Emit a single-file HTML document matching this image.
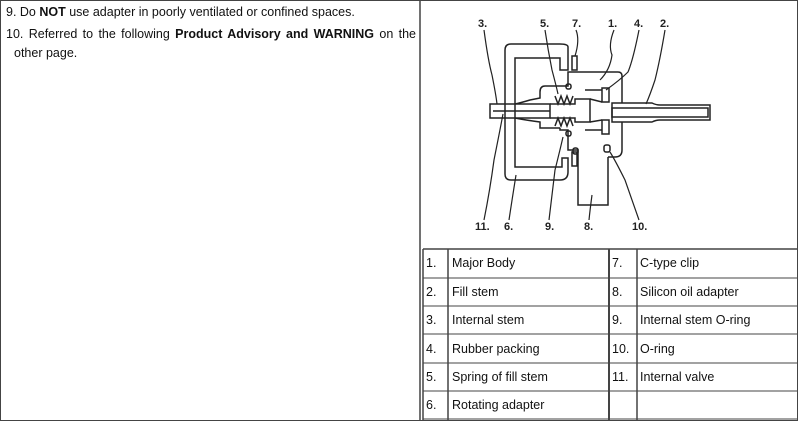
<!DOCTYPE html>
<html><head><style>
body{margin:0;background:#fff;width:800px;height:421px;overflow:hidden;font-family:"Liberation Sans",Arial,sans-serif;}
.t{position:absolute;font-size:12.5px;color:#111;white-space:nowrap}
.c{position:absolute;font-size:12.5px;color:#111}
</style></head><body>
<svg width="800" height="421" style="position:absolute;left:0;top:0" xmlns="http://www.w3.org/2000/svg">
<g stroke="#444" fill="none">
<rect x="0.5" y="0.5" width="797" height="420" stroke-width="1"/>
<line x1="420" y1="0" x2="420" y2="421" stroke-width="1.5"/>
<line x1="423" y1="249" x2="797" y2="249" stroke-width="1.5"/>
<line x1="423" y1="249" x2="423" y2="421" stroke-width="1.5"/>
<line x1="448" y1="249" x2="448" y2="421" stroke-width="1.5"/>
<line x1="609" y1="249" x2="609" y2="421" stroke-width="2"/>
<line x1="637" y1="249" x2="637" y2="421" stroke-width="1.5"/>
<line x1="423" y1="278" x2="797" y2="278"/>
<line x1="423" y1="306" x2="797" y2="306"/>
<line x1="423" y1="334" x2="797" y2="334"/>
<line x1="423" y1="363" x2="797" y2="363"/>
<line x1="423" y1="391" x2="797" y2="391"/>
<line x1="423" y1="419" x2="797" y2="419"/>
</g>
<g stroke="#222" fill="none" stroke-width="1.5">
<path d="M511,180 L560,180 Q568,180 568,172 L568,158 L562,158 L562,167 L515,167 L515,58 L560,58 L560,70 L568,70 L568,47 Q568,44 560,44 L511,44 Q505,44 505,50 L505,174 Q505,180 511,180 Z"/>
<path d="M575,72 L618,72 Q622,72 622,76 L622,103 M622,122 L622,150 Q622,157 615,157 L608,157 M578,157 L578,150 L568,150 L568,130 L560,130 L560,128 M560,86 L568,86 L568,72 L575,72"/>
<path d="M560,86 L545,86 Q540,86 540,92 L540,98 L530,100 Q520,103 515,104 M515,118 Q525,120 540,122 L540,128 L560,128"/>
<rect x="490" y="104" width="60" height="14"/>
<line x1="493" y1="111" x2="550" y2="111"/>
<path d="M550,104 L575,104 L575,99 L590,99 L590,122 L575,122 L575,118 L550,118"/>
<path d="M555,96 l3,8 l3,-8 l3,8 l3,-8 l3,8 l3,-8 M555,126 l3,-8 l3,8 l3,-8 l3,8 l3,-8 l3,8"/>
<rect x="602" y="88" width="7" height="14"/>
<rect x="602" y="120" width="7" height="14"/>
<path d="M585,90 L602,90 M585,130 L602,130 M590,99 L602,102 M590,122 L602,120"/>
<path d="M612,103 L652,103 Q656,105 660,105 L710,105 L710,120 L660,120 Q656,120 652,122 L612,122 Z"/>
<rect x="612" y="108" width="96" height="9"/>
<rect x="566" y="84" width="5" height="5" rx="2"/>
<rect x="566" y="131" width="5" height="5" rx="2"/>
<rect x="604" y="145" width="6" height="7" rx="2"/>
<rect x="573" y="148" width="5" height="6" rx="2"/>
<rect x="572" y="56" width="5" height="14"/>
<rect x="572" y="152" width="5" height="14"/>
<path d="M578,157 L578,205 L608,205 L608,157"/>
</g>
<g stroke="#222" fill="none" stroke-width="1.2">
<path d="M484,30 Q488,60 492,75 Q496,95 497,104"/>
<path d="M545,30 Q548,50 552,70 Q556,85 558,94"/>
<path d="M576,30 Q580,40 575,56"/>
<path d="M614,30 Q608,45 612,55 Q610,70 600,80"/>
<path d="M639,30 Q633,60 628,72 Q620,80 606,90"/>
<path d="M665,30 Q660,60 655,80 Q650,95 646,104"/>
<path d="M484,220 Q490,190 494,160 Q500,130 503,114"/>
<path d="M509,220 Q512,200 516,175"/>
<path d="M549,220 Q552,195 555,170 Q560,150 563,137"/>
<path d="M589,220 Q590,210 592,195"/>
<path d="M639,220 Q632,200 625,180 Q615,160 610,152"/>
</g>
<g font-family="Liberation Sans,Arial,sans-serif" font-size="11" font-weight="bold" fill="#222">
<text x="478" y="27">3.</text><text x="540" y="27">5.</text><text x="572" y="27">7.</text>
<text x="608" y="27">1.</text><text x="634" y="27">4.</text><text x="660" y="27">2.</text>
<text x="475" y="230">11.</text><text x="504" y="230">6.</text><text x="545" y="230">9.</text>
<text x="584" y="230">8.</text><text x="632" y="230">10.</text>
</g>
</svg>
<div class="t" style="left:6px;top:5px">9. Do <b>NOT</b> use adapter in poorly ventilated or confined spaces.</div>
<div class="t" style="left:6px;top:27px;width:410px;text-align:justify;text-align-last:justify">10. Referred to the following <b>Product Advisory and WARNING</b> on the</div>
<div class="t" style="left:14px;top:46px">other page.</div>
<div class="c" style="left:426px;top:256px">1.</div><div class="c" style="left:452px;top:256px">Major Body</div>
<div class="c" style="left:612px;top:256px">7.</div><div class="c" style="left:640px;top:256px">C-type clip</div>
<div class="c" style="left:426px;top:285px">2.</div><div class="c" style="left:452px;top:285px">Fill stem</div>
<div class="c" style="left:612px;top:285px">8.</div><div class="c" style="left:640px;top:285px">Silicon oil adapter</div>
<div class="c" style="left:426px;top:313px">3.</div><div class="c" style="left:452px;top:313px">Internal stem</div>
<div class="c" style="left:612px;top:313px">9.</div><div class="c" style="left:640px;top:313px">Internal stem O-ring</div>
<div class="c" style="left:426px;top:342px">4.</div><div class="c" style="left:452px;top:342px">Rubber packing</div>
<div class="c" style="left:612px;top:342px">10.</div><div class="c" style="left:640px;top:342px">O-ring</div>
<div class="c" style="left:426px;top:370px">5.</div><div class="c" style="left:452px;top:370px">Spring of fill stem</div>
<div class="c" style="left:612px;top:370px">11.</div><div class="c" style="left:640px;top:370px">Internal valve</div>
<div class="c" style="left:426px;top:398px">6.</div><div class="c" style="left:452px;top:398px">Rotating adapter</div>
</body></html>
